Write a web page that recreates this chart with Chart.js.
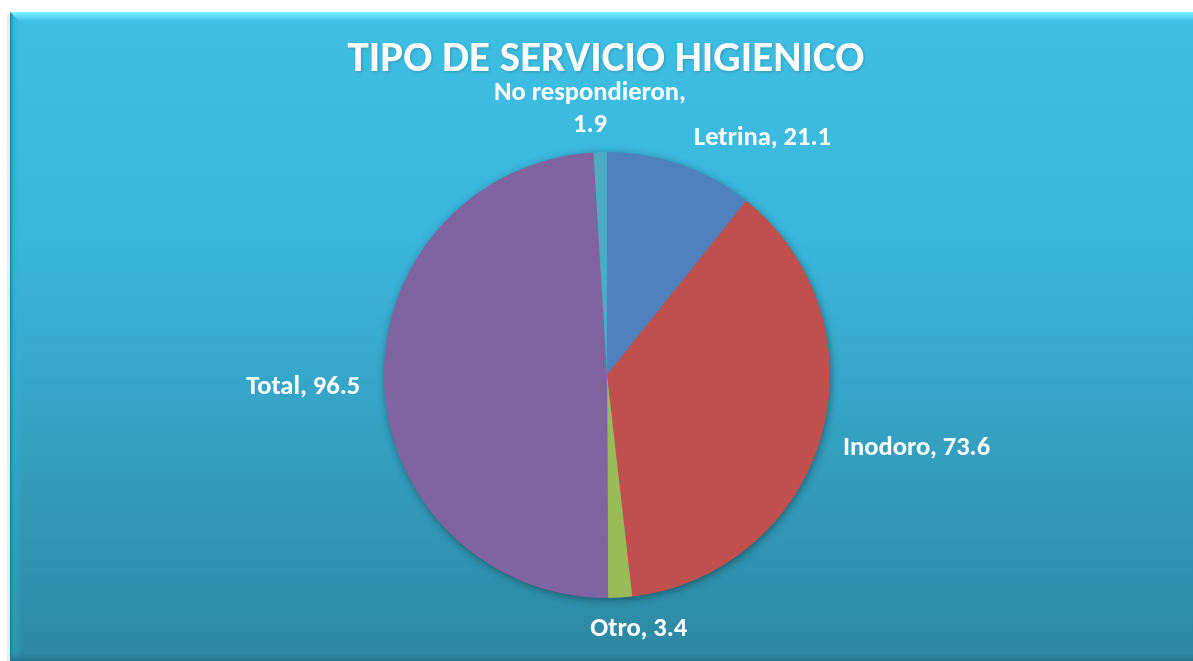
<!DOCTYPE html>
<html>
<head>
<meta charset="utf-8">
<script src="https://cdn.jsdelivr.net/npm/chart.js@4.4.0/dist/chart.umd.min.js"></script>
<style>
html,body{margin:0;padding:0;background:#fff;}
#wrap{position:relative;width:1193px;height:661px;}
</style>
</head>
<body>
<div id="wrap"><canvas id="c" width="1193" height="661"></canvas></div>
<script>
const chartTitle = "TIPO DE SERVICIO HIGIENICO";
const categories = ["Letrina", "Inodoro", "Otro", "Total", "No respondieron"];
const values = [21.1, 73.6, 3.4, 96.5, 1.9];
const sliceColors = ["#4f81bd", "#c0504d", "#9bbb59", "#8064a2", "#4bacc6"];

const FONT = "Carlito, 'Open Sans', 'Noto Sans', sans-serif";

// per-label nudges (layout only)
const labelNudge = [[55,-4],[13,5],[15,9],[-12,4],[-7,-4]];

const panelPlugin = {
  id: 'panel',
  beforeDraw(chart) {
    const ctx = chart.ctx;
    const W = chart.width, H = chart.height;
    ctx.save();
    ctx.fillStyle = '#ffffff';
    ctx.fillRect(0, 0, W, H);
    const x0 = 10, y0 = 12;
    ctx.fillStyle = 'rgba(0,0,0,0.08)';
    ctx.fillRect(x0 - 3, y0 + 2, 3, H);
    const g = ctx.createLinearGradient(0, y0, 0, H);
    g.addColorStop(0, '#3ebee4');
    g.addColorStop(0.35, '#3bb6dc');
    g.addColorStop(1, '#2d88a2');
    ctx.fillStyle = g;
    ctx.fillRect(x0, y0, W - x0, H - y0);
    const gb = ctx.createLinearGradient(0, y0, 0, y0 + 12);
    gb.addColorStop(0, 'rgba(120,245,255,1)');
    gb.addColorStop(0.4, 'rgba(100,225,250,0.8)');
    gb.addColorStop(1, 'rgba(62,190,228,0)');
    ctx.fillStyle = gb;
    ctx.beginPath();
    ctx.moveTo(x0, y0);
    ctx.lineTo(W, y0);
    ctx.lineTo(W, y0 + 12);
    ctx.lineTo(x0 + 12, y0 + 12);
    ctx.closePath();
    ctx.fill();
    const gl = ctx.createLinearGradient(x0, 0, x0 + 12, 0);
    gl.addColorStop(0, 'rgba(30,110,140,0.9)');
    gl.addColorStop(0.25, 'rgba(50,160,200,0.5)');
    gl.addColorStop(1, 'rgba(62,190,228,0)');
    ctx.fillStyle = gl;
    ctx.beginPath();
    ctx.moveTo(x0, y0);
    ctx.lineTo(x0 + 12, y0 + 12);
    ctx.lineTo(x0 + 12, H);
    ctx.lineTo(x0, H);
    ctx.closePath();
    ctx.fill();
    const gbt = ctx.createLinearGradient(0, H - 8, 0, H);
    gbt.addColorStop(0, 'rgba(40,120,145,0)');
    gbt.addColorStop(1, 'rgba(35,115,140,0.9)');
    ctx.fillStyle = gbt;
    ctx.fillRect(x0, H - 8, W - x0, 8);
    ctx.fillStyle = '#ffffff';
    ctx.font = "bold 43px " + FONT;
    ctx.textAlign = 'center';
    ctx.textBaseline = 'middle';
    ctx.shadowColor = 'rgba(0,0,0,0.2)';
    ctx.shadowBlur = 3;
    ctx.shadowOffsetX = 1;
    ctx.shadowOffsetY = 1;
    ctx.fillText(chartTitle, 606, 60);
    ctx.restore();
  },
  beforeDatasetsDraw(chart) {
    const meta = chart.getDatasetMeta(0);
    const a = meta.data[0];
    if (!a) return;
    const ctx = chart.ctx;
    ctx.save();
    ctx.shadowColor = 'rgba(0,0,0,0.45)';
    ctx.shadowBlur = 10;
    ctx.shadowOffsetX = 1;
    ctx.shadowOffsetY = 2;
    ctx.fillStyle = '#8064a2';
    ctx.beginPath();
    ctx.arc(a.x, a.y, a.outerRadius - 1, 0, Math.PI * 2);
    ctx.fill();
    ctx.restore();
  },
  afterDatasetsDraw(chart) {
    const meta = chart.getDatasetMeta(0);
    const ctx = chart.ctx;
    ctx.save();
    ctx.fillStyle = '#ffffff';
    ctx.font = "bold 26.5px " + FONT;
    ctx.textAlign = 'center';
    ctx.textBaseline = 'middle';
    const lh = 32;
    meta.data.forEach((arc, i) => {
      const mid = (arc.startAngle + arc.endAngle) / 2;
      const dx = Math.cos(mid), dy = Math.sin(mid);
      const R = arc.outerRadius + 12;
      const px = arc.x + dx * R, py = arc.y + dy * R;
      let lines;
      if (categories[i] === 'No respondieron') {
        lines = [categories[i] + ',', String(values[i])];
      } else {
        lines = [categories[i] + ', ' + values[i]];
      }
      const w = Math.max(...lines.map(l => ctx.measureText(l).width));
      const h = lines.length * lh - (lh - 22);
      const cx = px + dx * w / 2 + labelNudge[i][0];
      const cy = py + dy * h / 2 + labelNudge[i][1];
      lines.forEach((l, k) => {
        ctx.fillText(l, cx, cy - (lines.length - 1) * lh / 2 + k * lh);
      });
    });
    ctx.restore();
  }
};

new Chart(document.getElementById('c'), {
  type: 'pie',
  data: {
    labels: categories,
    datasets: [{
      data: values,
      backgroundColor: sliceColors,
      borderWidth: 0
    }]
  },
  options: {
    responsive: false,
    animation: false,
    layout: { padding: { top: 152, bottom: 63, left: 21, right: 0 } },
    plugins: {
      legend: { display: false },
      title: { display: false },
      tooltip: { enabled: false }
    }
  },
  plugins: [panelPlugin]
});
</script>
</body>
</html>
